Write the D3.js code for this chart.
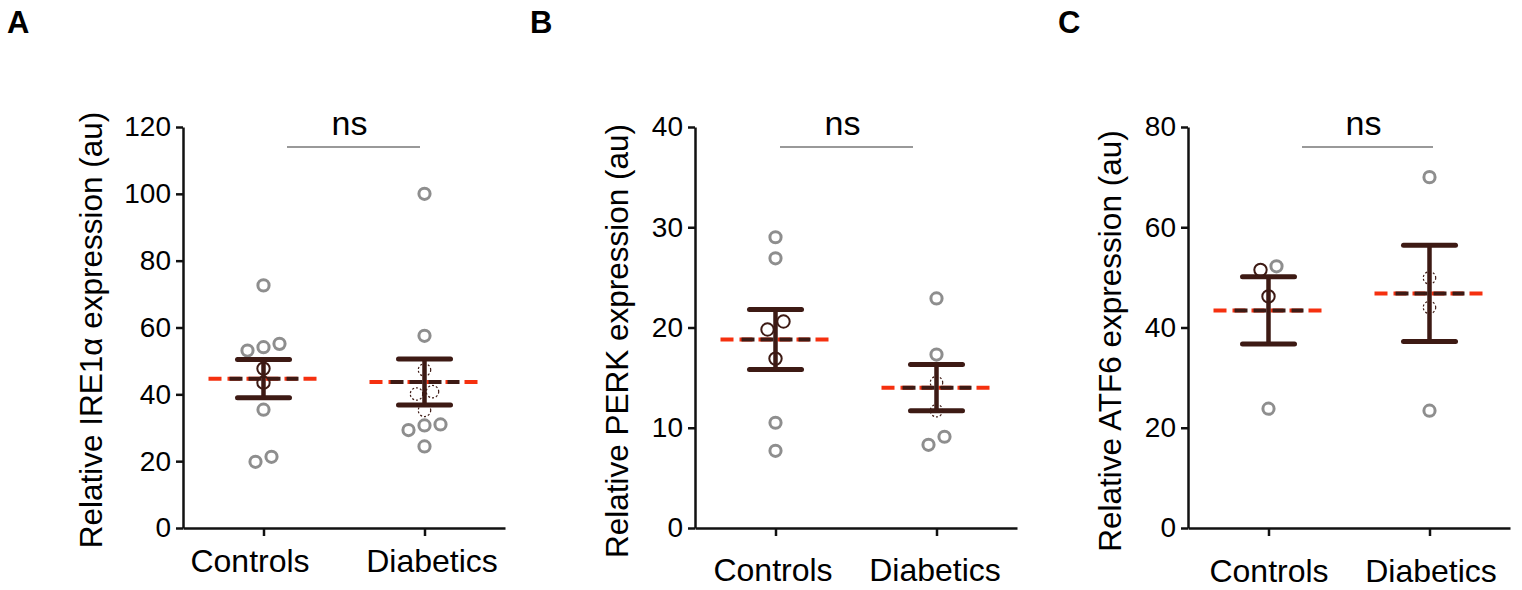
<!DOCTYPE html>
<html>
<head>
<meta charset="utf-8">
<script src="https://cdn.jsdelivr.net/npm/d3@7"></script>
<style>
  body { margin: 0; background: #fff; }
  svg text { font-family: "Liberation Sans", Arial, sans-serif; fill: #000; }
  .axis path, .axis line { stroke: #111; stroke-width: 2.5; }
  .axis text { font-size: 28px; }
</style>
</head>
<body>
<div id="chart"></div>
<script>
// Categories
var categories = ["Controls", "Diabetics"];

// IRE1a values (au)
var ire1Controls = [72.6, 55.1, 54.1, 53.1, 47.7, 43.5, 35.4, 21.3, 19.8];
var ire1Diabetics = [100, 57.5, 47.3, 40.8, 40.1, 35.2, 31.0, 30.7, 29.3, 24.4];
var ire1Mean = [44.7, 43.7];
var ire1Sem = [5.7, 6.9];

// PERK values (au)
var perkControls = [29.0, 26.9, 20.6, 19.8, 16.9, 10.5, 7.7];
var perkDiabetics = [22.9, 17.3, 14.5, 11.7, 9.1, 8.3];
var perkMean = [18.8, 14.0];
var perkSem = [3.0, 2.3];

// ATF6 values (au)
var atf6Controls = [52.2, 51.5, 46.2, 23.8];
var atf6Diabetics = [70.0, 49.9, 44.0, 23.4];
var atf6Mean = [43.4, 46.8];
var atf6Sem = [6.7, 9.6];

// Tick labels
var ire1Ticks = [0, 20, 40, 60, 80, 100, 120];
var perkTicks = [0, 10, 20, 30, 40];
var atf6Ticks = [0, 20, 40, 60, 80];

var sigLabel = "ns";

var width = 1522, height = 590;
var dark = "#3d1a14", red = "#f5300f", grey = "#8e8e8e";

var svg = d3.select("#chart").append("svg")
  .attr("width", width)
  .attr("height", height);

var panels = [
  { letter: "A", letterX: 7, left: 183, title: "Relative IRE1\u03b1 expression (au)", titleX: 81, titleY: 330,
    groups: [ire1Controls, ire1Diabetics], mean: ire1Mean, sem: ire1Sem, ticks: ire1Ticks,
    labelDy: 44, labelDx: [-14, 7], bracket: [104, 237] },
  { letter: "B", letterX: 530, left: 695, title: "Relative PERK expression (au)", titleX: 67, titleY: 341,
    groups: [perkControls, perkDiabetics], mean: perkMean, sem: perkSem, ticks: perkTicks,
    labelDy: 53, labelDx: [-3, -2], bracket: [85, 218] },
  { letter: "C", letterX: 1058, left: 1188, title: "Relative ATF6 expression (au)", titleX: 67, titleY: 341,
    groups: [atf6Controls, atf6Diabetics], mean: atf6Mean, sem: atf6Sem, ticks: atf6Ticks,
    labelDy: 54, labelDx: [0, 1], bracket: [114, 245] }
];

panels.forEach(drawPanel);

function drawPanel(p) {
  var plotW = 322, y0 = 528, y1 = 127;

  var x = d3.scalePoint().domain(categories).range([0, plotW]).padding(0.5);
  var y = d3.scaleLinear().domain([0, d3.max(p.ticks)]).range([y0, y1]);

  // Panel letter
  svg.append("text")
    .attr("x", p.letterX)
    .attr("y", 33)
    .style("font-size", "31px")
    .style("font-weight", "bold")
    .text(p.letter);

  var g = svg.append("g").attr("transform", "translate(" + p.left + ",0)");

  // Y axis
  g.append("g")
    .attr("class", "axis")
    .call(d3.axisLeft(y).tickValues(p.ticks).tickSize(7).tickSizeOuter(0).tickPadding(5));

  // X axis
  var xAxis = g.append("g")
    .attr("class", "axis")
    .attr("transform", "translate(0," + y0 + ")")
    .call(d3.axisBottom(x).tickSize(8).tickSizeOuter(0));
  xAxis.selectAll("text")
    .attr("y", p.labelDy)
    .attr("dy", 0)
    .attr("dx", function(d, i) { return p.labelDx[i]; })
    .style("font-size", "32px");

  // Y axis title
  g.append("text")
    .attr("transform", "rotate(-90)")
    .attr("x", -p.titleY)
    .attr("y", -p.titleX)
    .attr("text-anchor", "middle")
    .style("font-size", "31.5px")
    .text(p.title);

  // Significance bracket
  g.append("line")
    .attr("x1", p.bracket[0]).attr("x2", p.bracket[1])
    .attr("y1", 147).attr("y2", 147)
    .attr("stroke", "#777")
    .attr("stroke-width", 1.5);
  g.append("text")
    .attr("x", (p.bracket[0] + p.bracket[1]) / 2 - 4)
    .attr("y", 135)
    .attr("text-anchor", "middle")
    .style("font-size", "34px")
    .text(sigLabel);

  p.groups.forEach(function(values, gi) {
    var cx = x(categories[gi]);
    var lo = y(p.mean[gi] - p.sem[gi]), hi = y(p.mean[gi] + p.sem[gi]);

    // Spread points that sit at almost the same height
    var pts = values.map(function(v) { return { v: v, py: y(v) }; })
      .sort(function(a, b) { return a.v - b.v; });
    var rows = [], row = null;
    pts.forEach(function(d) {
      if (row && Math.abs(d.py - row.start) < 12) row.items.push(d);
      else { row = { start: d.py, items: [d] }; rows.push(row); }
    });
    rows.forEach(function(r) {
      r.items.forEach(function(d, i) {
        d.px = cx + (i - (r.items.length - 1) / 2) * 16;
        d.hidden = d.py > hi - 8 && d.py < lo + 8;
      });
    });

    // Outer points
    g.selectAll(null)
      .data(pts.filter(function(d) { return !d.hidden; }))
      .enter().append("circle")
        .attr("cx", function(d) { return d.px; })
        .attr("cy", function(d) { return d.py; })
        .attr("r", 5.6)
        .attr("fill", "none")
        .attr("stroke", grey)
        .attr("stroke-width", 3);

    // Mean line
    var half = 55;
    g.append("line")
      .attr("x1", cx - half).attr("x2", cx + half)
      .attr("y1", y(p.mean[gi])).attr("y2", y(p.mean[gi]))
      .attr("stroke", red)
      .attr("stroke-width", 4)
      .attr("stroke-dasharray", "13,6");
    g.append("line")
      .attr("x1", cx - 35).attr("x2", cx + 35)
      .attr("y1", y(p.mean[gi])).attr("y2", y(p.mean[gi]))
      .attr("stroke", dark)
      .attr("stroke-width", 4)
      .attr("stroke-dasharray", "13,6")
      .attr("stroke-dashoffset", -1);

    // SEM bar
    g.append("line")
      .attr("x1", cx).attr("x2", cx)
      .attr("y1", hi).attr("y2", lo)
      .attr("stroke", dark)
      .attr("stroke-width", 4.5);
    [hi, lo].forEach(function(yy) {
      g.append("line")
        .attr("x1", cx - 26).attr("x2", cx + 26)
        .attr("y1", yy).attr("y2", yy)
        .attr("stroke", dark)
        .attr("stroke-width", 5)
        .attr("stroke-linecap", "round");
    });

    // Points behind the bar
    g.selectAll(null)
      .data(pts.filter(function(d) { return d.hidden; }))
      .enter().append("circle")
        .attr("cx", function(d) { return d.px; })
        .attr("cy", function(d) { return d.py; })
        .attr("r", 6.2)
        .attr("fill", "none")
        .attr("stroke", dark)
        .attr("stroke-width", gi === 0 ? 2 : 1.2)
        .attr("stroke-dasharray", gi === 0 ? null : "2,2");
  });
}
</script>
</body>
</html>
